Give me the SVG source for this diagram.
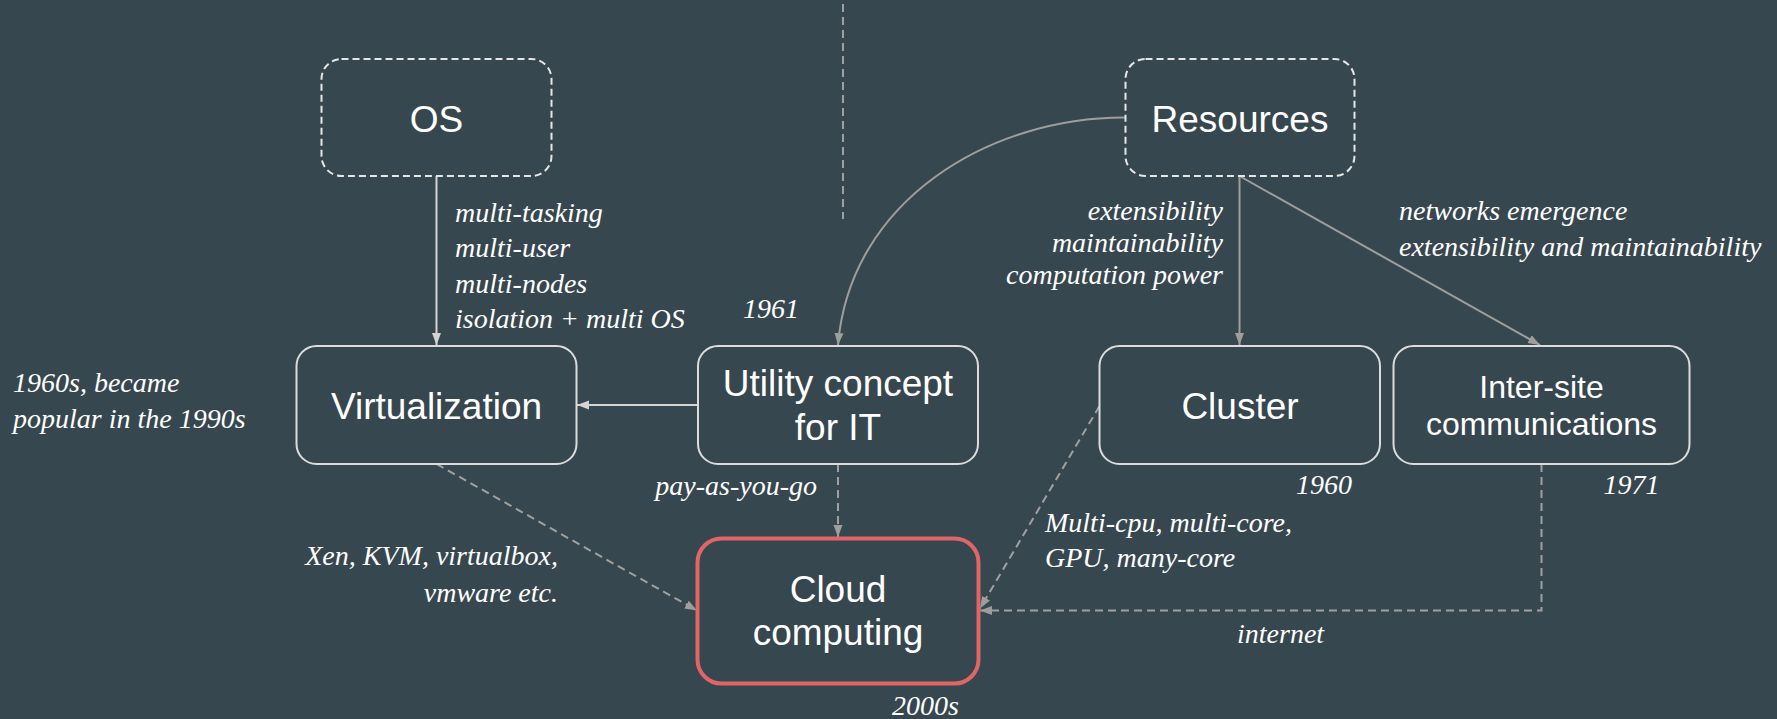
<svg xmlns="http://www.w3.org/2000/svg" width="1777" height="719" viewBox="0 0 1777 719">
<style>
.bg{fill:#37474f}
.box{fill:#37474f;stroke:#dcdcdc;stroke-width:2}
.dbox{fill:#37474f;stroke:#e6e6e6;stroke-width:2;stroke-dasharray:7 4}
.cloud{fill:#37474f;stroke:#e06666;stroke-width:4}
.lbl{font-family:"Liberation Sans",Arial,sans-serif;font-size:37px;fill:#ffffff;text-anchor:middle}
.lbl32{font-size:32px}
.note{font-family:"Liberation Serif","Times New Roman",serif;font-style:italic;font-size:28px;fill:#ffffff}
.end{text-anchor:end}
.mid{text-anchor:middle}
.c-light{fill:none;stroke:#d4d4d4;stroke-width:2}
.c-gray{fill:none;stroke:#9e9e9e;stroke-width:2}
.c-dash{fill:none;stroke:#a0a0a0;stroke-width:2;stroke-dasharray:8 5}
</style>
<defs>
<marker id="ahL" viewBox="0 0 12 10" refX="12" refY="5" markerWidth="12" markerHeight="10" markerUnits="userSpaceOnUse" orient="auto"><path d="M0,0.5 L12,5 L0,9.5 z" fill="#d4d4d4"/></marker>
<marker id="ahG" viewBox="0 0 12 10" refX="12" refY="5" markerWidth="12" markerHeight="10" markerUnits="userSpaceOnUse" orient="auto"><path d="M0,0.5 L12,5 L0,9.5 z" fill="#9e9e9e"/></marker>
</defs>
<rect class="bg" x="0" y="0" width="1777" height="719"/>

<g id="connectors">
<path class="c-dash" d="M843,4 L843,219"/>
<path class="c-light" d="M436.5,176 L436.5,345" marker-end="url(#ahL)"/>
<path class="c-light" d="M698,405 L577,405" marker-end="url(#ahL)"/>
<path class="c-gray" d="M1125.5,117.5 C990,117 850,200 838,345" marker-end="url(#ahG)"/>
<path class="c-gray" d="M1239.5,176 L1239.5,345" marker-end="url(#ahG)"/>
<path class="c-gray" d="M1239.5,176 L1540,345" marker-end="url(#ahG)"/>
<path class="c-dash" d="M838,464 L838,537" marker-end="url(#ahG)"/>
<path class="c-dash" d="M436.5,464 L697,610.5" marker-end="url(#ahG)"/>
<path class="c-dash" d="M1099.5,406 L980,608.5" marker-end="url(#ahG)"/>
<path class="c-dash" d="M1541.5,464 L1541.5,610.5 L980,610.5" marker-end="url(#ahG)"/>
</g>

<g id="node-os">
<rect class="dbox" x="321.5" y="59" width="230" height="117" rx="20"/>
<text class="lbl" x="436.5" y="131.5">OS</text>
</g>
<g id="node-resources">
<rect class="dbox" x="1125.5" y="59" width="229" height="117" rx="20"/>
<text class="lbl" x="1240" y="132">Resources</text>
</g>
<g id="node-virtualization">
<rect class="box" x="296.5" y="346" width="280" height="118" rx="20"/>
<text class="lbl" x="436.5" y="419">Virtualization</text>
</g>
<g id="node-utility">
<rect class="box" x="698" y="346" width="280" height="118" rx="20"/>
<text class="lbl" x="838" y="396">Utility concept</text>
<text class="lbl" x="838" y="439.5">for IT</text>
</g>
<g id="node-cluster">
<rect class="box" x="1099.5" y="346" width="280.5" height="118" rx="20"/>
<text class="lbl" x="1240" y="418.5">Cluster</text>
</g>
<g id="node-intersite">
<rect class="box" x="1393.5" y="346" width="296" height="118" rx="20"/>
<text class="lbl lbl32" x="1541.5" y="397.5">Inter-site</text>
<text class="lbl lbl32" x="1541.5" y="435">communications</text>
</g>
<g id="node-cloud">
<rect class="cloud" x="697.5" y="538.5" width="281" height="145" rx="24"/>
<text class="lbl" x="838" y="602">Cloud</text>
<text class="lbl" x="838" y="645">computing</text>
</g>

<g id="labels">
<text class="note" x="455" y="221.5">multi-tasking</text>
<text class="note" x="455" y="257">multi-user</text>
<text class="note" x="455" y="292.5">multi-nodes</text>
<text class="note" x="455" y="328">isolation + multi OS</text>
<text class="note mid" x="771" y="318">1961</text>
<text class="note end" x="817" y="495">pay-as-you-go</text>
<text class="note end" x="558" y="565">Xen, KVM, virtualbox,</text>
<text class="note end" x="558" y="601.5">vmware etc.</text>
<text class="note" x="13" y="392">1960s, became</text>
<text class="note" x="13" y="428">popular in the 1990s</text>
<text class="note" x="892" y="715">2000s</text>
<text class="note end" x="1223" y="220">extensibility</text>
<text class="note end" x="1223" y="252">maintainability</text>
<text class="note end" x="1223" y="284">computation power</text>
<text class="note" x="1399" y="220">networks emergence</text>
<text class="note" x="1399" y="256">extensibility and maintainability</text>
<text class="note mid" x="1324" y="493.5">1960</text>
<text class="note mid" x="1631.5" y="494">1971</text>
<text class="note" x="1045" y="531.5">Multi-cpu, multi-core,</text>
<text class="note" x="1045" y="567">GPU, many-core</text>
<text class="note" x="1237" y="643">internet</text>
</g>
</svg>
